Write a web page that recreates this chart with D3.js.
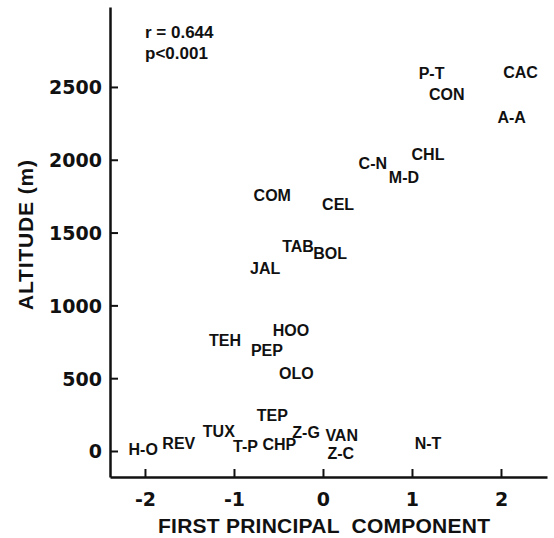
<!DOCTYPE html>
<html>
<head>
<meta charset="utf-8">
<script src="https://cdn.jsdelivr.net/npm/d3@7"></script>
<style>
  body { margin: 0; background: #fff; }
  svg { display: block; }
  .tick text { font-family: "DejaVu Sans", sans-serif; font-weight: bold; font-size: 19px; fill: #111; }
  .site { font-family: "Liberation Sans", Arial, sans-serif; font-weight: bold; font-size: 16px; fill: #111; }
  .title { font-family: "Liberation Sans", Arial, sans-serif; font-weight: bold; font-size: 21px; fill: #111; }
  .stat { font-family: "Liberation Sans", Arial, sans-serif; font-weight: bold; font-size: 17px; fill: #111; }
</style>
</head>
<body>
<script>
// sites, first principal component score, altitude (m)
var sites = ['H-O', 'REV', 'TUX', 'T-P', 'CHP', 'TEP', 'Z-G', 'VAN', 'Z-C', 'N-T',
             'TEH', 'PEP', 'HOO', 'OLO', 'JAL', 'TAB', 'BOL', 'COM', 'CEL',
             'C-N', 'M-D', 'CHL', 'P-T', 'CON', 'CAC', 'A-A'];
var pc1 = [-2.02, -1.62, -1.17, -0.87, -0.49, -0.57, -0.19, 0.21, 0.20, 1.18,
           -1.10, -0.63, -0.36, -0.30, -0.65, -0.28, 0.08, -0.57, 0.17,
           0.56, 0.91, 1.18, 1.22, 1.39, 2.22, 2.12];
var altitude = [14, 55, 137, 34, 48, 247, 130, 110, -14, 55,
                762, 694, 831, 536, 1257, 1408, 1360, 1758, 1696,
                1978, 1882, 2040, 2596, 2452, 2603, 2294];

var xTicks = [-2, -1, 0, 1, 2];
var xTickLabels = ['-2', '-1', '0', '1', '2'];
var yTicks = [0, 500, 1000, 1500, 2000, 2500];
var yTickLabels = ['0', '500', '1000', '1500', '2000', '2500'];
var statLines = ['r = 0.644', 'p<0.001'];

var width = 554, height = 538;

var svg = d3.select('body').append('svg')
  .attr('width', width)
  .attr('height', height);

var x = d3.scaleLinear().domain([-2.393, 2.517]).range([110, 547]);
var y = d3.scaleLinear().domain([-178.6, 3049]).range([477, 7]);

// axes, ticks pointing inward
var xAxis = svg.append('g')
  .attr('transform', 'translate(0,' + y.range()[0] + ')')
  .call(d3.axisBottom(x)
    .tickValues(xTicks)
    .tickFormat(function (d, i) { return xTickLabels[i]; })
    .tickSizeInner(-8).tickSizeOuter(0).tickPadding(16));

var yAxis = svg.append('g')
  .attr('transform', 'translate(' + x.range()[0] + ',0)')
  .call(d3.axisLeft(y)
    .tickValues(yTicks)
    .tickFormat(function (d, i) { return yTickLabels[i]; })
    .tickSizeInner(-8).tickSizeOuter(0).tickPadding(8));

svg.selectAll('.domain').attr('stroke', '#111').attr('stroke-width', 2.5);
svg.selectAll('.tick line').attr('stroke', '#111').attr('stroke-width', 2);
yAxis.selectAll('.tick text').attr('dy', '0.36em');

// site labels
svg.selectAll('text.site')
  .data(sites)
  .enter()
  .append('text')
  .attr('class', 'site')
  .attr('x', function (d, i) { return x(pc1[i]); })
  .attr('y', function (d, i) { return y(altitude[i]); })
  .attr('dy', '0.36em')
  .attr('text-anchor', 'middle')
  .text(function (d) { return d; });

// correlation note
svg.selectAll('text.stat')
  .data(statLines)
  .enter()
  .append('text')
  .attr('class', 'stat')
  .attr('x', 145)
  .attr('y', function (d, i) { return 38 + i * 21; })
  .text(function (d) { return d; });

// axis titles
svg.append('text')
  .attr('class', 'title')
  .attr('x', 158)
  .attr('y', 533)
  .attr('textLength', 332)
  .attr('lengthAdjust', 'spacing')
  .style('white-space', 'pre')
  .text('FIRST PRINCIPAL  COMPONENT');

svg.append('text')
  .attr('class', 'title')
  .attr('transform', 'translate(33,310) rotate(-90)')
  .attr('textLength', 150)
  .attr('lengthAdjust', 'spacing')
  .text('ALTITUDE (m)');
</script>
</body>
</html>
